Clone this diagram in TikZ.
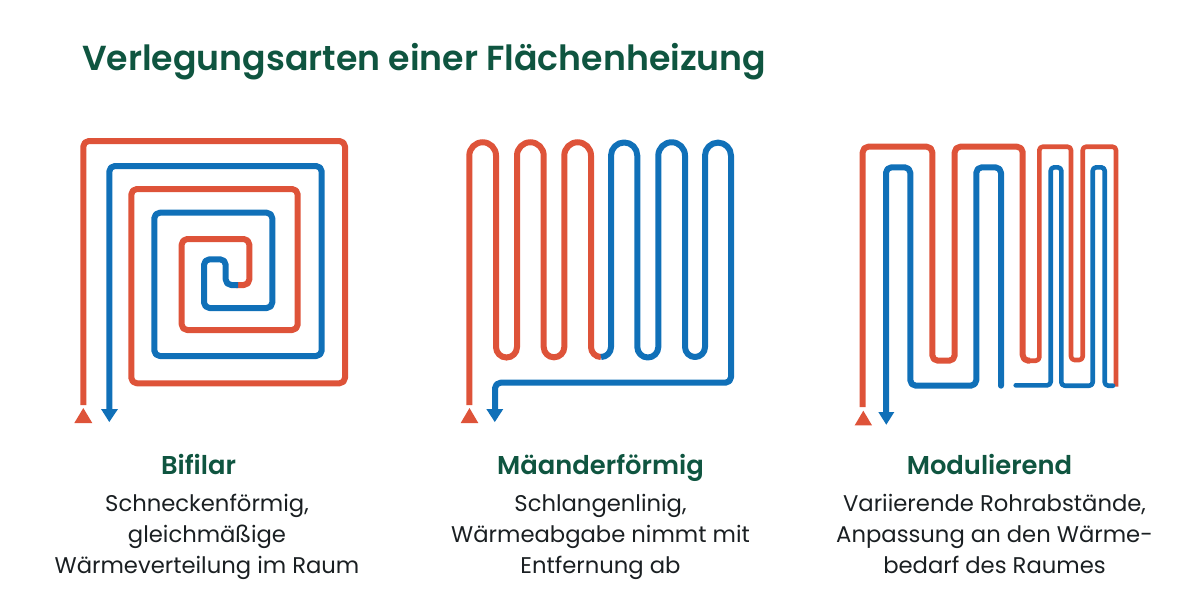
\documentclass[tikz,border=0pt]{standalone}
\usepackage{fontspec}
\setmainfont{Poppins}
\newfontfamily\headfont{Poppins}[UprightFont=* SemiBold]
\definecolor{pipered}{HTML}{DE5339}
\definecolor{pipeblue}{HTML}{1070B8}
\definecolor{headgreen}{HTML}{0F5540}
\definecolor{bodygray}{HTML}{1A1F22}
\tikzset{
  pipe/.style={line width=6pt,line join=round,rounded corners=5.5pt},
  thinpipe/.style={line width=4.6pt,line join=round,rounded corners=3.5pt},
  hot/.style={draw=pipered},
  cold/.style={draw=pipeblue},
  heading/.style={text=headgreen,font=\headfont\fontsize{25.8}{30}\selectfont,anchor=center,text height=20pt,text depth=7pt},
  bodytext/.style={text=bodygray,font=\fontsize{22.7}{31}\selectfont,align=center,anchor=center},
  titletext/.style={text=headgreen,font=\headfont\fontsize{34.7}{40}\selectfont,anchor=west}
}
\begin{document}
\begin{tikzpicture}[x=1pt,y=-1pt]
\useasboundingbox (0,0) rectangle (1201,614);
\node[titletext] (title) at (78.5,62) {Verlegungsarten einer Flächenheizung};
% Bifilar
\draw[pipe,hot] (83.3,405) -- (83.3,141) -- (345,141) -- (345,383.3) -- (131.3,383.3) -- (131.3,189) -- (297.7,189) -- (297.7,330) -- (181.7,330) -- (181.7,239) -- (249.3,239) -- (249.3,285) -- (236,285);
\draw[pipe,cold] (109.3,412) -- (109.3,166) -- (321.7,166) -- (321.7,356) -- (154.3,356) -- (154.3,212.7) -- (272.3,212.7) -- (272.3,308) -- (204,308) -- (204,259.3) -- (225.7,259.3) -- (225.7,285) -- (238,285);
\fill[pipered] (83.3,408) -- (92.3,423) -- (74.3,423) -- cycle;
\fill[pipeblue] (109.3,422) -- (118,409) -- (101,409) -- cycle;
% Maeander
\draw[line width=6pt,pipered] (469.3,405) -- (469.3,155.6) arc[start angle=180,end angle=360,radius=13.35] -- (496,347) arc[start angle=180,end angle=0,radius=10.5] -- (517,155.6) arc[start angle=180,end angle=360,radius=13.35] -- (543.7,347) arc[start angle=180,end angle=0,radius=10.3] -- (564.3,155.6) arc[start angle=180,end angle=360,radius=13.35] -- (591,347) arc[start angle=180,end angle=90,radius=10];
\draw[line width=6pt,pipeblue,line join=round] (601,357) arc[start angle=90,end angle=0,radius=10] -- (611,155.6) arc[start angle=180,end angle=360,radius=13.15] -- (637.3,347) arc[start angle=180,end angle=0,radius=10.5] -- (658.3,155.6) arc[start angle=180,end angle=360,radius=13.35] -- (685,347) arc[start angle=180,end angle=0,radius=10] -- (705,155.6) arc[start angle=180,end angle=360,radius=13] -- (731,376) [rounded corners=5.5pt] -- (731,382.7) -- (495,382.7) -- (495,412);
\fill[pipered] (469.5,408) -- (478.3,423) -- (460.7,423) -- cycle;
\fill[pipeblue] (494.8,422) -- (503.3,409) -- (486.3,409) -- cycle;
% Modulierend
\draw[pipe,hot] (862.7,407) -- (862.7,146.7) -- (932.3,146.7) -- (932.3,360.7) -- (954.7,360.7) -- (954.7,146.7) -- (1022.7,146.7) -- (1022.7,360.7) -- (1030,360.7);
\draw[thinpipe,hot] (1030,360.7) -- (1039.3,360.7) -- (1039.3,146.7) -- (1071,146.7) -- (1071,360) -- (1082.7,360) -- (1082.7,146.7) -- (1116,146.7) -- (1116,386.5);
\draw[pipe,cold,line cap=round] (886,414) -- (886,167.3) -- (910.3,167.3) -- (910.3,385.7) -- (976.3,385.7) -- (976.3,167.3) -- (1001,167.3) -- (1001,385.7);
\draw[thinpipe,cold,line cap=round] (1015.7,385.3) -- (1050.7,385.3) -- (1050.7,167.3) -- (1061.3,167.3) -- (1061.3,385.7) -- (1092.7,385.7) -- (1092.7,167.3) -- (1104.7,167.3) -- (1104.7,385.7) -- (1113,385.7);
\fill[pipered] (863.3,410.7) -- (872,425.3) -- (854.7,425.3) -- cycle;
\fill[pipeblue] (886.3,424.7) -- (894.3,412) -- (878.3,412) -- cycle;
% Texts
\node[heading] (h1) at (198.5,468) {Bifilar};
\node[bodytext] (b1) at (207,536) {\strut Schneckenförmig,\\\strut gleichmäßige\\\strut Wärmeverteilung im Raum};
\node[heading] (h2) at (600.5,468) {Mäanderförmig};
\node[bodytext] (b2) at (600.5,536) {\strut Schlangenlinig,\\\strut Wärmeabgabe nimmt mit\\\strut Entfernung ab};
\node[heading] (h3) at (989.5,468) {Modulierend};
\node[bodytext] (b3) at (994.5,536) {\strut Variierende Rohrabstände,\\\strut Anpassung an den Wärme-\\\strut bedarf des Raumes};
\end{tikzpicture}
\end{document}
